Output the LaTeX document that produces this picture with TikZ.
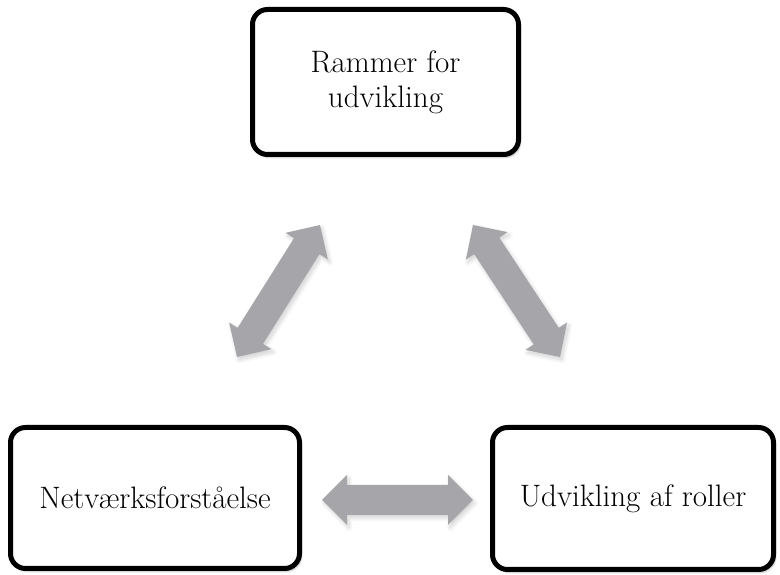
\documentclass[tikz,border=0pt]{standalone}
\usetikzlibrary{calc,shadows.blur}

\definecolor{arrowgray}{RGB}{166,166,170}

\tikzset{
  topic/.style={draw=black, line width=5pt, rounded corners=15pt, fill=white,
    align=center, inner sep=0pt,
    font=\fontsize{31}{35}\selectfont,
    blur shadow={shadow xshift=2pt, shadow yshift=-3pt, shadow blur steps=6, shadow opacity=25}},
  linkarrow/.style={fill=arrowgray,
    blur shadow={shadow xshift=2pt, shadow yshift=-3pt, shadow blur radius=4pt,
      shadow blur steps=8, shadow opacity=18}}
}

% double-headed block arrow from coordinate #1 to coordinate #2
\newcommand\twoway[2]{%
  \coordinate (#1h) at ($(#1)!25pt!(#2)$);
  \coordinate (#2h) at ($(#2)!25pt!(#1)$);
  \fill[linkarrow] (#1)
    -- ($(#1h)!25pt!90:(#2)$) -- ($(#1h)!15pt!90:(#2)$)
    -- ($(#2h)!-15pt!90:(#1)$) -- ($(#2h)!-25pt!90:(#1)$)
    -- (#2)
    -- ($(#2h)!25pt!90:(#1)$) -- ($(#2h)!15pt!90:(#1)$)
    -- ($(#1h)!-15pt!90:(#2)$) -- ($(#1h)!-25pt!90:(#2)$)
    -- cycle;}

\begin{document}
\begin{tikzpicture}[x=1pt, y=1pt]
  \useasboundingbox (0,0) rectangle (780,575);

  % the three topics
  \node[topic, minimum width=266pt, minimum height=145pt] (rammer) at (385.5,493)
    {Rammer for\\udvikling};
  \node[topic, minimum width=289pt, minimum height=141pt] (netvaerk) at (155,77)
    {Netværksforståelse};
  \node[topic, minimum width=281pt, minimum height=142pt] (roller) at (633,76.5)
    {Udvikling af roller};

  % end points of the two-way arrows
  \coordinate (la) at (237,218);
  \coordinate (lb) at (320,350);
  \coordinate (ra) at (473,350);
  \coordinate (rb) at (560,218);
  \coordinate (ha) at (322,75);
  \coordinate (hb) at (473,75);

  \twoway{la}{lb}
  \twoway{ra}{rb}
  \twoway{ha}{hb}
\end{tikzpicture}
\end{document}
